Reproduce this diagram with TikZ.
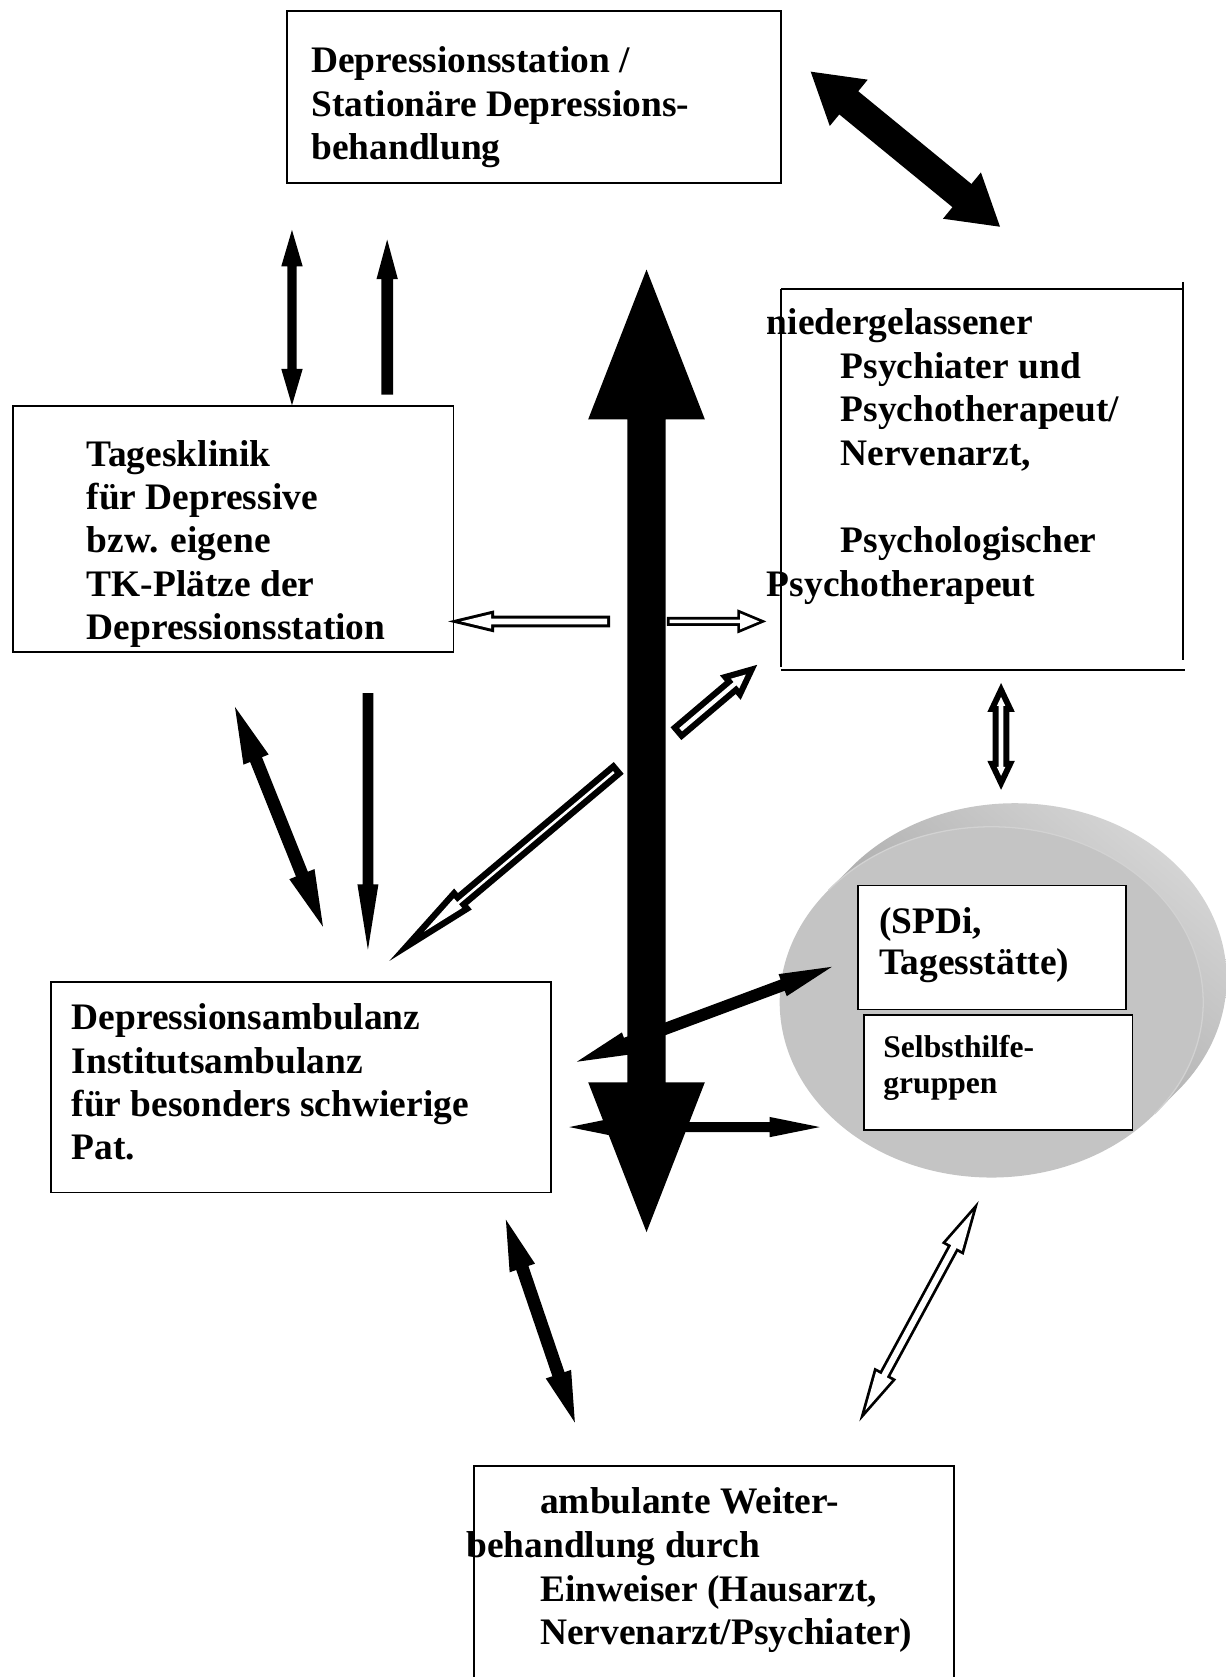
\documentclass[tikz,border=0pt]{standalone}
\usepackage{fontspec}
\setmainfont{Liberation Serif}
\usetikzlibrary{calc}

\definecolor{cylFront}{RGB}{196,196,196}
\definecolor{cylTop}{RGB}{156,156,156}
\definecolor{cylLow}{RGB}{218,218,218}
\definecolor{cylRim}{RGB}{210,210,210}

% block arrow with one head: style, tail, tip, shaft half width, head half width, head length
\newcommand{\arrowone}[6]{%
  \coordinate (hb) at ($(#3)!#6!(#2)$);
  \path[#1] ($(#2)!#4!90:(#3)$) -- ($(hb)!#4!-90:(#2)$) -- ($(hb)!#5!-90:(#2)$) -- (#3)
    -- ($(hb)!#5!90:(#2)$) -- ($(hb)!#4!90:(#2)$) -- ($(#2)!#4!-90:(#3)$) -- cycle;
}
% block arrow with heads at both ends
\newcommand{\arrowtwo}[6]{%
  \coordinate (ha) at ($(#2)!#6!(#3)$);
  \coordinate (hb) at ($(#3)!#6!(#2)$);
  \path[#1] (#2) -- ($(ha)!#5!90:(#3)$) -- ($(ha)!#4!90:(#3)$) -- ($(hb)!#4!-90:(#2)$)
    -- ($(hb)!#5!-90:(#2)$) -- (#3) -- ($(hb)!#5!90:(#2)$) -- ($(hb)!#4!90:(#2)$)
    -- ($(ha)!#4!-90:(#3)$) -- ($(ha)!#5!-90:(#3)$) -- cycle;
}
% outlined (white) block arrows: outline thickness, ends, outer sizes as plain numbers
\newcommand{\arInner}[4]{%
  \pgfmathsetmacro\arAng{atan(#3/#4)}%
  \pgfmathsetmacro\arTip{#1/sin(\arAng)}%
  \pgfmathsetmacro\arSw{#2-#1}%
  \pgfmathsetmacro\arHl{#4-#1-\arTip}%
  \pgfmathsetmacro\arHw{\arHl*tan(\arAng)}%
}
\newcommand{\hollowone}[6]{%
  \arInner{#1}{#4}{#5}{#6}%
  \coordinate (tipin) at ($(#3)!\arTip pt!(#2)$);
  \coordinate (tailin) at ($(#2)!#1pt!(#3)$);
  \arrowone{fill=black}{#2}{#3}{#4pt}{#5pt}{#6pt}
  \arrowone{fill=white}{tailin}{tipin}{\arSw pt}{\arHw pt}{\arHl pt}
}
\newcommand{\hollowtwo}[6]{%
  \arInner{#1}{#4}{#5}{#6}%
  \coordinate (ain) at ($(#2)!\arTip pt!(#3)$);
  \coordinate (bin) at ($(#3)!\arTip pt!(#2)$);
  \arrowtwo{fill=black}{#2}{#3}{#4pt}{#5pt}{#6pt}
  \arrowtwo{fill=white}{ain}{bin}{\arSw pt}{\arHw pt}{\arHl pt}
}

\begin{document}
\begin{tikzpicture}[x=1pt,y=-1pt,
  box/.style={draw=black, line width=1.8pt, fill=white, inner sep=0pt, outer sep=0pt, anchor=north west},
  boxline/.style={draw=black, line width=1.8pt},
  txt/.style={font=\fontsize{35}{40.5}\selectfont\bfseries, anchor=base west, inner sep=0pt, outer sep=0pt},
  smalltxt/.style={font=\fontsize{29.5}{34}\selectfont\bfseries, anchor=base west, inner sep=0pt, outer sep=0pt},
  solidarrow/.style={fill=black},
]
\path[use as bounding box] (0,0) rectangle (1146,1568);
\fill[white] (0,0) rectangle (1146,1568);

% ---- disc holding the community services ----
\shade[top color=cylLow, bottom color=cylTop, shading angle=-40]
  (774.4,832.4) -- (796.4,810.4)
  arc[start angle=219.63, end angle=399.63, x radius=198, y radius=164]
  -- (1079.5,1041.6)
  arc[start angle=39.63, end angle=-140.37, x radius=198, y radius=164] -- cycle;
\fill[cylFront] (927,937) ellipse[x radius=198, y radius=164];
\draw[cylRim, line width=1.2pt] (1079.5,1041.6)
  arc[start angle=39.63, end angle=-140.37, x radius=198, y radius=164];

% ---- boxes ----
\node[box, minimum width=462pt, minimum height=161.5pt] (station) at (268,10) {};
\node[box, minimum width=412pt, minimum height=230pt] (tagesklinik) at (12,380) {};
\node[inner sep=0pt, outer sep=0pt, minimum width=376pt, minimum height=356pt, anchor=north west] (praxis) at (730,270.5) {};
\draw[boxline] (praxis.north west) -- (praxis.north east);
\draw[boxline] ([yshift=7pt]praxis.north east) -- ([yshift=9.5pt]praxis.south east);
\draw[boxline] (praxis.south west) -- ([xshift=2pt]praxis.south east);
\draw[boxline] (praxis.north west) -- ([yshift=3pt]praxis.south west);
\node[box, minimum width=467.5pt, minimum height=197pt] (ambulanz) at (48,918) {};
\node[box, minimum width=449pt, minimum height=230pt] (weiter) at (443,1371) {};
\node[box, line width=1.5pt, minimum width=251pt, minimum height=116pt] (spdi) at (802,828) {};
\node[box, line width=1.5pt, minimum width=251pt, minimum height=107.5pt] (shg) at (808,949) {};

% ---- texts ----
\node[txt] (station-1) at (291,68) {Depressionsstation /};
\node[txt] (station-2) at (291,108.5) {Stationäre Depressions-};
\node[txt] (station-3) at (291,149) {behandlung};

\node[txt] (tk-1) at (81,436) {Tagesklinik};
\node[txt] (tk-2) at (81,476.5) {für Depressive};
\node[txt] (tk-3) at (81,517) {bzw. eigene};
\node[txt] (tk-4) at (81,557.5) {TK-Plätze der};
\node[txt] (tk-5) at (81,598) {Depressionsstation};

\node[txt] (praxis-1) at (717,313) {niedergelassener};
\node[txt] (praxis-2) at (786,353.5) {Psychiater und};
\node[txt] (praxis-3) at (786,394.5) {Psychotherapeut/};
\node[txt] (praxis-4) at (786,435.5) {Nervenarzt,};
\node[txt] (praxis-5) at (786,517) {Psychologischer};
\node[txt] (praxis-6) at (717,557.5) {Psychotherapeut};

\node[txt] (amb-1) at (67,963) {Depressionsambulanz};
\node[txt] (amb-2) at (67,1003.5) {Institutsambulanz};
\node[txt] (amb-3) at (67,1044) {für besonders schwierige};
\node[txt] (amb-4) at (67,1084) {Pat.};

\node[txt] (weiter-1) at (505,1415) {ambulante Weiter-};
\node[txt] (weiter-2) at (436,1456) {behandlung durch};
\node[txt] (weiter-3) at (505,1497) {Einweiser (Hausarzt,};
\node[txt] (weiter-4) at (505,1538) {Nervenarzt/Psychiater)};

\node[txt] (spdi-1) at (822,873) {(SPDi,};
\node[txt] (spdi-2) at (822,911) {Tagesstätte)};
\node[smalltxt] (shg-1) at (826,989) {Selbsthilfe-};
\node[smalltxt] (shg-2) at (826,1022.5) {gruppen};

% ---- arrow end points ----
\coordinate (st-tk-a) at (273,215);     \coordinate (st-tk-b) at (273,379);
\coordinate (tk-st-a) at (362,369);     \coordinate (tk-st-b) at (362,224);
\coordinate (tk-amb-a) at (219.7,661);  \coordinate (tk-amb-b) at (302,866.5);
\coordinate (tk-amb2-a) at (344,648);   \coordinate (tk-amb2-b) at (344,888);
\coordinate (st-pr-a) at (758,67);      \coordinate (st-pr-b) at (935,212);
\coordinate (amb-spdi-a) at (539.4,992.7); \coordinate (amb-spdi-b) at (777.7,904);
\coordinate (amb-shg-a) at (532.2,1053.8); \coordinate (amb-shg-b) at (766.5,1053.8);
\coordinate (amb-we-a) at (473,1140.4); \coordinate (amb-we-b) at (537.5,1330);
\coordinate (main-a) at (604.5,252);    \coordinate (main-b) at (604.5,1152);

\coordinate (to-tk-a) at (570.5,581);   \coordinate (to-tk-b) at (419,581);
\coordinate (to-pr-a) at (623.5,581);   \coordinate (to-pr-b) at (716.5,581);
\coordinate (to-pr2-a) at (632,686);    \coordinate (to-pr2-b) at (708,621.6);
\coordinate (to-amb-a) at (578.5,718);  \coordinate (to-amb-b) at (364,898.5);
\coordinate (pr-cyl-a) at (936,638.6);  \coordinate (pr-cyl-b) at (936,738.5);
\coordinate (cyl-we-a) at (915,1123);   \coordinate (cyl-we-b) at (803.5,1329);

% ---- outlined arrows ----
\hollowone{2.8}{to-tk-a}{to-tk-b}{5.5}{10.3}{43}
\hollowone{2.6}{to-pr-a}{to-pr-b}{4.3}{11.3}{27}
\hollowone{5.8}{to-pr2-a}{to-pr2-b}{7.8}{15}{33}
\hollowone{6}{to-amb-a}{to-amb-b}{7.2}{12.8}{90}
\hollowtwo{5.6}{pr-cyl-a}{pr-cyl-b}{7.8}{12.8}{27}
\hollowtwo{2.6}{cyl-we-a}{cyl-we-b}{5.4}{11.6}{51}

% ---- solid arrows ----
\arrowtwo{solidarrow}{st-tk-a}{st-tk-b}{4.3pt}{10pt}{34pt}
\arrowone{solidarrow}{tk-st-a}{tk-st-b}{5.5pt}{10pt}{37pt}
\arrowtwo{solidarrow}{tk-amb-a}{tk-amb-b}{6pt}{12.7pt}{53pt}
\arrowone{solidarrow}{tk-amb2-a}{tk-amb2-b}{5pt}{9.8pt}{61pt}
\arrowtwo{solidarrow}{st-pr-a}{st-pr-b}{14pt}{28pt}{46pt}
\arrowtwo{solidarrow}{amb-spdi-a}{amb-spdi-b}{5.6pt}{11pt}{49pt}
\arrowtwo{solidarrow}{amb-shg-a}{amb-shg-b}{4.7pt}{9.5pt}{47pt}
\arrowtwo{solidarrow}{amb-we-a}{amb-we-b}{6pt}{12.5pt}{47.7pt}
\arrowtwo{solidarrow}{main-a}{main-b}{17.8pt}{54.5pt}{140pt}
\end{tikzpicture}
\end{document}
